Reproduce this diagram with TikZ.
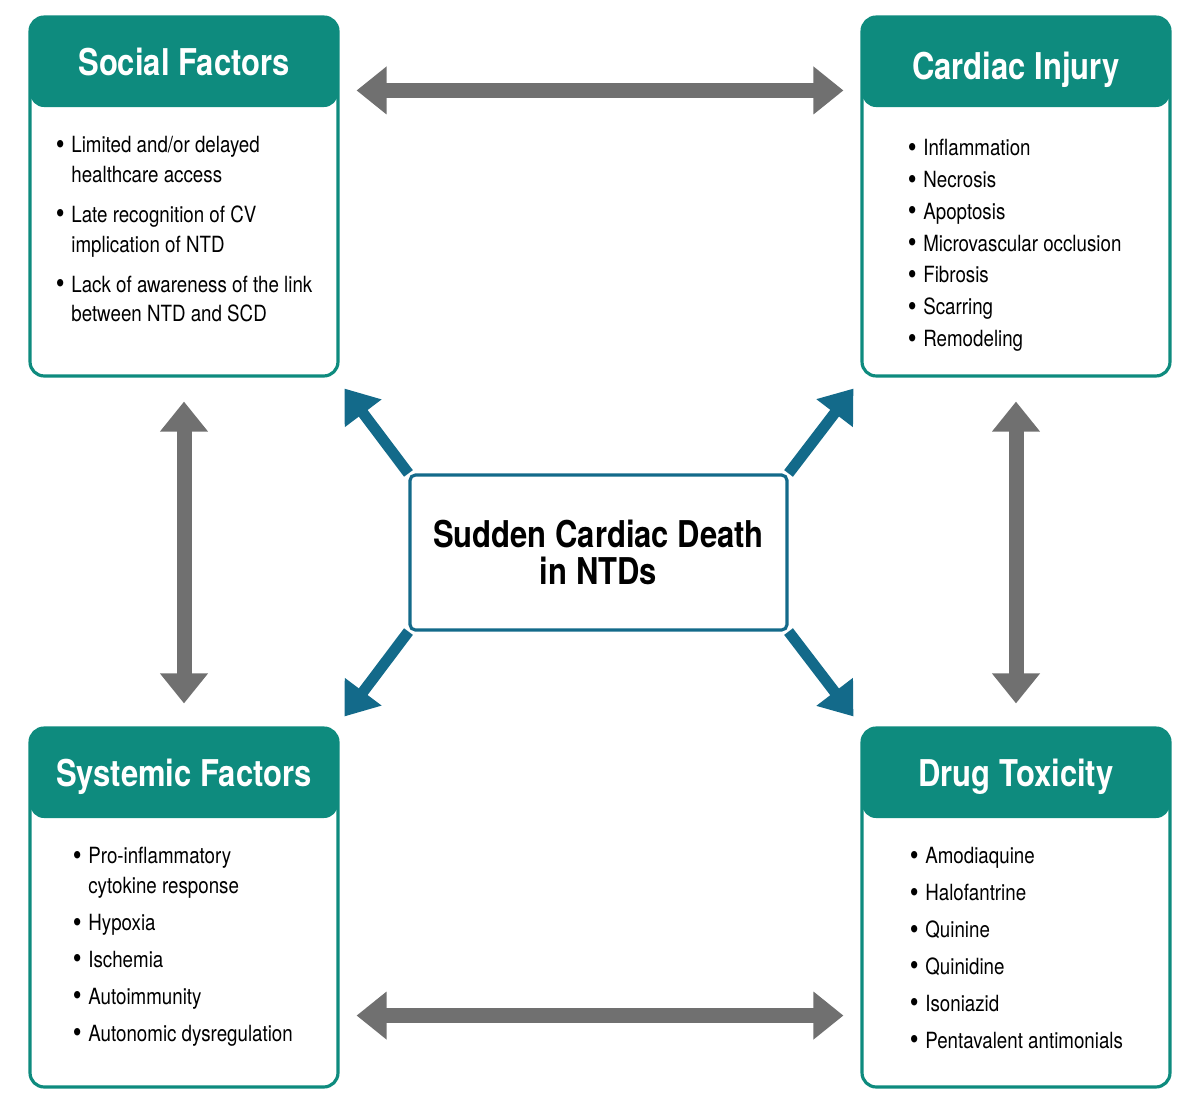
\documentclass[tikz,border=0pt]{standalone}
\usepackage{fontspec}
\setmainfont{TeX Gyre Heros}[FakeStretch=0.84]
\usepackage{tikz}
\usetikzlibrary{positioning, arrows.meta}
\definecolor{headteal}{RGB}{14,139,126}
\definecolor{arrowgray}{RGB}{112,112,112}
\definecolor{scdblue}{RGB}{19,106,138}

\tikzset{
    card/.style={draw=headteal, line width=1.8pt, rounded corners=8pt, fill=white,
        minimum width=6.16cm, minimum height=7.18cm, inner sep=0pt,
        path picture={\fill[headteal] (path picture bounding box.north west)
            rectangle ([yshift=-1.8cm]path picture bounding box.north east);}},
    cardtitle/.style={text=white, font=\fontsize{21}{24}\selectfont\bfseries},
    itemlist/.style={anchor=north west, inner sep=0pt, align=left,
        font=\fontsize{12.7}{17}\selectfont},
    twoway/.style={arrowgray, line width=0.3cm, {Triangle[length=0.6cm,width=0.92cm]}-{Triangle[length=0.6cm,width=0.92cm]}},
    outward/.style={scdblue, line width=0.22cm, -{Triangle[length=0.62cm,width=0.88cm]}}
}
\newcommand{\bul}{\llap{\raisebox{-0.9pt}{\fontsize{17}{17}\selectfont\textbullet}\hspace{0.3em}}}

\begin{document}
\begin{tikzpicture}[x=0.02cm, y=-0.02cm]
    \useasboundingbox (0,0) rectangle (1200,1109);

    % Four factor boxes
    \node[card] (social) at (184,196.5) {};
    \node[card] (cardiac) at (1016,196.5) {};
    \node[card] (systemic) at (184,907.5) {};
    \node[card] (drug) at (1016,907.5) {};

    % Titles
    \node[cardtitle] (social-title) at (184,62) {Social Factors};
    \node[cardtitle] (cardiac-title) at (1016,70) {Cardiac Injury};
    \node[cardtitle] (systemic-title) at (184,777) {Systemic Factors};
    \node[cardtitle] (drug-title) at (1016,777) {Drug Toxicity};

    % Lists
    \node[itemlist] (social-list) at (71,136) {\bul Limited and/or delayed\\ healthcare access\\[5.7pt]
        \bul Late recognition of CV\\ implication of NTD\\[5.7pt]
        \bul Lack of awareness of the link\\ between NTD and SCD};
    \node[itemlist] (cardiac-list) at (923,139) {\bul Inflammation\\[1.1pt] \bul Necrosis\\[1.1pt]
        \bul Apoptosis\\[1.1pt] \bul Microvascular occlusion\\[1.1pt] \bul Fibrosis\\[1.1pt]
        \bul Scarring\\[1.1pt] \bul Remodeling};
    \node[itemlist] (systemic-list) at (88,847) {\bul Pro-inflammatory\\ cytokine response\\[4pt]
        \bul Hypoxia\\[4pt] \bul Ischemia\\[4pt] \bul Autoimmunity\\[4pt] \bul Autonomic dysregulation};
    \node[itemlist] (drug-list) at (925,847) {\bul Amodiaquine\\[4pt] \bul Halofantrine\\[4pt]
        \bul Quinine\\[4pt] \bul Quinidine\\[4pt] \bul Isoniazid\\[4pt] \bul Pentavalent antimonials};

    % Centre box
    \node[draw=scdblue, line width=1.8pt, rounded corners=3pt, fill=white,
        minimum width=7.54cm, minimum height=3.1cm, align=center,
        font=\fontsize{21}{21}\selectfont\bfseries] (scd) at (598.5,552.5)
        {Sudden Cardiac Death\\ in NTDs};

    % Gray double arrows between boxes
    \draw[twoway] ([shift={(17,75)}]social.north east) -- ([shift={(-17,75)}]cardiac.north west);
    \draw[twoway] ([shift={(17,-73)}]systemic.south east) -- ([shift={(-17,-73)}]drug.south west);
    \draw[twoway] ([yshift=-0.48cm]social.south) -- ([yshift=0.46cm]systemic.north);
    \draw[twoway] ([yshift=-0.48cm]cardiac.south) -- ([yshift=0.46cm]drug.north);

    % Blue arrows out of the centre
    \draw[outward] (scd.north west) -- ([shift={(5,11)}]social.south east);
    \draw[outward] (scd.north east) -- ([shift={(-7,11)}]cardiac.south west);
    \draw[outward] (scd.south west) -- ([shift={(5,-10)}]systemic.north east);
    \draw[outward] (scd.south east) -- ([shift={(-7,-10)}]drug.north west);
\end{tikzpicture}
\end{document}
